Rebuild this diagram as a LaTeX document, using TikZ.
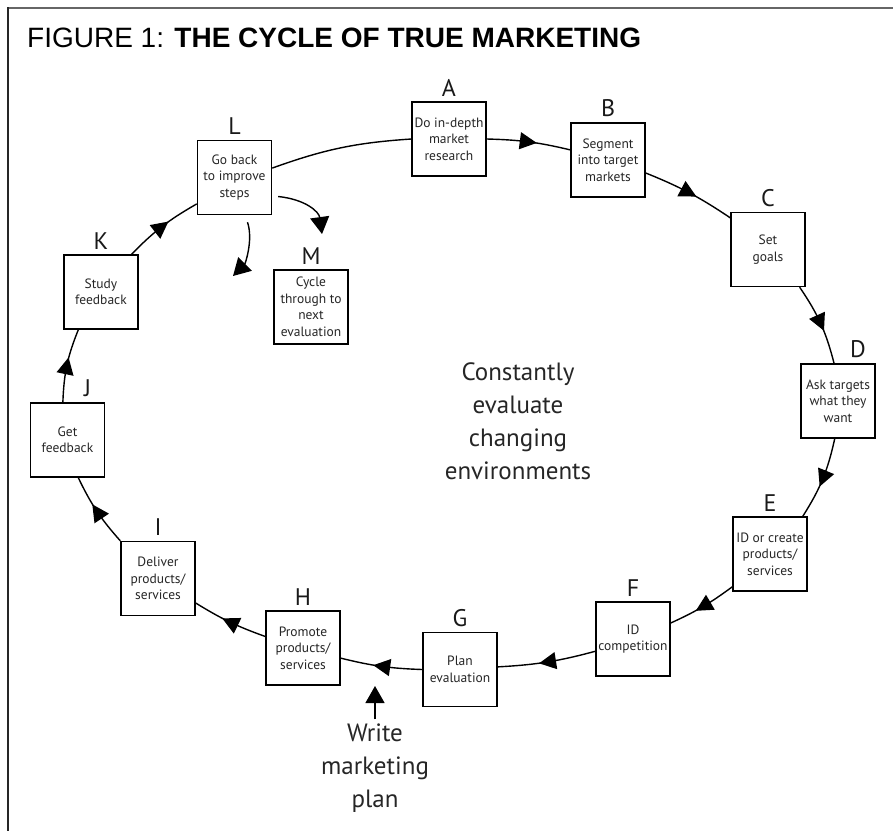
\documentclass[tikz,border=0pt]{standalone}
\usepackage{fontspec}
\setmainfont{PT Sans}
\newfontfamily\headfont{Liberation Sans}
\usetikzlibrary{arrows.meta, positioning, decorations.markings}

\begin{document}
\begin{tikzpicture}[
    x=1pt, y=1pt,
    % ── Box and text styles ──
    stepbox/.style={rectangle, draw=black, line width=1.4pt, fill=white,
                    minimum width=74pt, minimum height=74pt, inner sep=1pt,
                    align=center, text=black!85,
                    font=\fontsize{13.5}{16.5}\selectfont},
    letter/.style={inner sep=0pt, text=black!90, font=\fontsize{24}{24}\selectfont},
    bigtext/.style={inner sep=0pt, align=center, text=black!85,
                    font=\fontsize{25}{33}\selectfont},
    % ── Connector styles ──
    plain/.style={line width=1.4pt},
    cyc/.style={line width=1.4pt, postaction={decorate},
                decoration={markings, mark=at position 0.5 with
                  {\arrow[xshift=8pt]{Triangle[length=17pt,width=17pt]}}}},
    side/.style={line width=1.4pt, -{Triangle[length=17pt,width=19pt]}}
]
\useasboundingbox (0,0) rectangle (893,-831);

% ═══ Frame + heading ═══
\draw[line width=2.4pt, black!60] (7,-8) -- (893,-8);
\draw[line width=2.2pt, black!85] (8,-7) -- (8,-831);
\node[anchor=base west, inner sep=0pt, font=\headfont\fontsize{28}{28}\selectfont]
  (title) at (27,-47) {FIGURE 1: \textbf{THE CYCLE OF TRUE MARKETING}};

% ═══ Steps round the cycle ═══
\node[stepbox] (A) at (449,-139)   {Do in-depth\\market\\research};
\node[stepbox] (B) at (608,-160)   {Segment\\into target\\markets};
\node[stepbox] (C) at (768,-249.5) {Set\\goals};
\node[stepbox] (D) at (838,-401)   {Ask targets\\what they\\want};
\node[stepbox] (E) at (770,-554)   {ID or create\\products/\\services};
\node[stepbox] (F) at (633,-639)   {ID\\competition};
\node[stepbox] (G) at (460,-669.5) {Plan\\evaluation};
\node[stepbox] (H) at (303,-648)   {Promote\\products/\\services};
\node[stepbox] (I) at (158,-578.5) {Deliver\\products/\\services};
\node[stepbox] (J) at (67.5,-440)  {Get\\feedback};
\node[stepbox] (K) at (101,-292)   {Study\\feedback};
\node[stepbox] (L) at (234.5,-177.5) {Go back\\to improve\\steps};
\node[stepbox] (M) at (311,-307)   {Cycle\\through to\\next\\evaluation};

% ═══ Step letters ═══
\node[letter, above=5pt of A] (lA) {A};
\node[letter, above=5pt of B] (lB) {B};
\node[letter, above=5pt of C] (lC) {C};
\node[letter, above=5pt of D, xshift=20pt] (lD) {D};
\node[letter, above=5pt of E] (lE) {E};
\node[letter, above=5pt of F] (lF) {F};
\node[letter, above=5pt of G] (lG) {G};
\node[letter, above=5pt of H] (lH) {H};
\node[letter, above=5pt of I] (lI) {I};
\node[letter, above=5pt of J, xshift=20pt] (lJ) {J};
\node[letter, above=5pt of K] (lK) {K};
\node[letter, above=5pt of L] (lL) {L};
\node[letter, above=5pt of M] (lM) {M};

% ═══ Middle note + entry point ═══
\node[bigtext] (evalnote) at (518,-421) {Constantly\\evaluate\\changing\\environments};
\node[bigtext] (plan) at (375,-768) {Write\\marketing\\plan};
\coordinate (planin) at (375,-686);

% ═══ Cycle arcs ═══
\draw[plain] (L.14)   to[bend left=8]  (A.west);
\draw[cyc]   (A.east) to[bend left=6]  (B.165);
\draw[cyc]   (B.-19)  to[bend left=6]  (C.140);
\draw[cyc]   (C.-50)  to[bend left=10] (D.96);
\draw[cyc]   (D.-95)  to[bend left=10] (E.49);
\draw[cyc]   (E.-139) to[bend left=6]  (F.23);
\draw[cyc]   (F.198)  to[bend left=6]  (G.4);
\draw[cyc]   (G.180)  to[bend left=6]  (H.-15);
\draw[cyc]   (H.163)  to[bend left=6]  (I.-33);
\draw[cyc]   (I.135)  to[bend left=8]  (J.-74);
\draw[cyc]   (J.97)   to[bend left=10] (K.-121);
\draw[cyc]   (K.51)   to[bend left=8]  (L.-145);

% ═══ Ways out of L ═══
\coordinate (toM)  at (322,-234);
\coordinate (back) at (233,-276);
\draw[side] ([xshift=6pt,yshift=-19pt]L.east) .. controls +(28,-3) and +(-3,22) .. (toM);
\draw[side] ([xshift=13pt,yshift=-7pt]L.south) .. controls +(6,-18) and +(12,12) .. (back);
\draw[side, shorten <=4pt] (plan.north) -- (planin);

\end{tikzpicture}
\end{document}
